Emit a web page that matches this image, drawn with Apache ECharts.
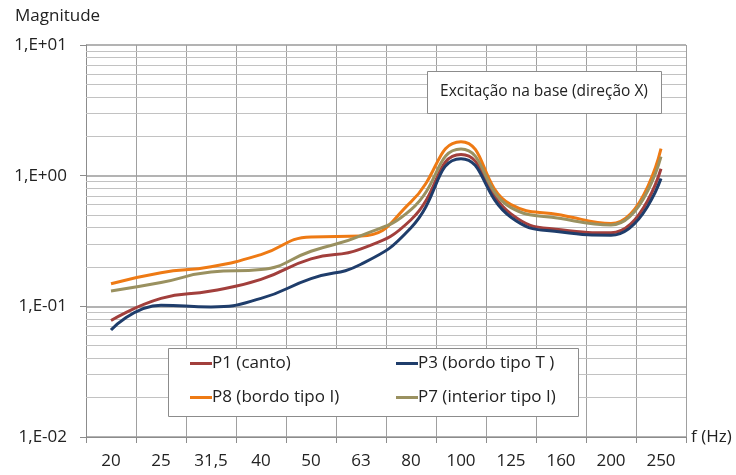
<!DOCTYPE html>
<html>
<head>
<meta charset="utf-8">
<script src="https://cdn.jsdelivr.net/npm/echarts@6/dist/echarts.min.js"></script>
<style>html,body{margin:0;padding:0;background:#fff}#c{width:736px;height:475px}</style>
</head>
<body>
<div id="c"></div>
<script>
var categories = ['20','25','31,5','40','50','63','80','100','125','160','200','250'];
var p1 = [0.078, 0.115, 0.131, 0.161, 0.231, 0.275, 0.46, 1.45, 0.51, 0.385, 0.365, 1.13];
var p3 = [0.066, 0.102, 0.099, 0.115, 0.163, 0.21, 0.40, 1.35, 0.48, 0.37, 0.35, 0.95];
var p8 = [0.149, 0.181, 0.201, 0.249, 0.34, 0.345, 0.63, 1.82, 0.60, 0.50, 0.43, 1.61];
var p7 = [0.131, 0.152, 0.183, 0.191, 0.264, 0.348, 0.55, 1.60, 0.57, 0.47, 0.42, 1.40];
var seriesNames = ['P1 (canto)', 'P3 (bordo tipo T )', 'P8 (bordo tipo I)', 'P7 (interior tipo I)'];
var minorGrid = [];
[0.01, 0.1, 1].forEach(function(d){ for (var k = 2; k <= 9; k++) minorGrid.push(+(d*k).toPrecision(3)); });

var FONT = "'Open Sans', 'Noto Sans', sans-serif";
var colors = ['#A23F3C', '#1F3D6B', '#EE7A14', '#9A9160'];
var chart = echarts.init(document.getElementById('c'), null, {renderer: 'canvas'});

function fmt(v) {
  var e = Math.round(Math.log10(v));
  var a = Math.abs(e);
  return '1,E' + (e >= 0 ? '+' : '-') + (a < 10 ? '0' + a : a);
}

var dataSets = [p1, p3, p8, p7];
var series = dataSets.map(function(d, i) {
  return {
    name: seriesNames[i], type: 'line', data: d, smooth: 0.5, showSymbol: false,
    lineStyle: {color: colors[i], width: 3}, itemStyle: {color: colors[i]}, z: 5
  };
});
series.push({
  name: 'minor', type: 'line', data: categories.map(function(){ return null; }), z: 1,
  silent: true, showSymbol: false,
  markLine: {
    silent: true, symbol: 'none', label: {show: false},
    lineStyle: {color: '#c2c2c2', type: 'solid', width: 1},
    data: minorGrid.map(function(v){ return {yAxis: v}; })
  }
});

function legendAt(name, left, top) {
  return {
    data: [name], left: left, top: top, padding: 0, icon: 'rect',
    itemWidth: 22, itemHeight: 3, itemGap: 0, z: 10,
    textStyle: {fontFamily: FONT, fontSize: 17, color: '#222', padding: [0,0,0,-5]}
  };
}

chart.setOption({
  animation: false,
  backgroundColor: '#fff',
  grid: {left: 86, right: 50, top: 45, bottom: 38},
  xAxis: {
    type: 'category', data: categories, boundaryGap: true,
    name: 'f (Hz)', nameLocation: 'end', nameGap: 5,
    nameTextStyle: {fontFamily: FONT, fontSize: 17, color: '#222', verticalAlign: 'middle'},
    axisLine: {show: true, lineStyle: {color: '#8c8c8c', width: 1}},
    axisTick: {show: true, length: 6, interval: 0, lineStyle: {color: '#8c8c8c'}},
    axisLabel: {interval: 0, margin: 16, fontFamily: FONT, fontSize: 17, color: '#222'},
    splitLine: {show: true, interval: 0, lineStyle: {color: '#a0a0a0', width: 1}}
  },
  yAxis: {
    type: 'log', logBase: 10, min: 0.01, max: 10,
    axisLine: {show: true, lineStyle: {color: '#8c8c8c'}},
    axisTick: {show: true, length: 6, lineStyle: {color: '#8c8c8c'}},
    axisLabel: {margin: 19, fontFamily: FONT, fontSize: 17, color: '#222', formatter: fmt},
    splitLine: {show: true, lineStyle: {color: '#9a9a9a', width: 1.5}}
  },
  legend: [
    legendAt(seriesNames[0], 190, 355),
    legendAt(seriesNames[2], 190, 389),
    legendAt(seriesNames[1], 396, 355),
    legendAt(seriesNames[3], 396, 389)
  ],
  graphic: [
    {type: 'text', left: 15, top: 8, style: {text: 'Magnitude', font: '17px ' + FONT, fill: '#222'}},
    {type: 'rect', shape: {x: 427.5, y: 71.5, width: 234, height: 42}, z: 8,
     style: {fill: '#fff', stroke: '#8c8c8c', lineWidth: 1}},
    {type: 'text', x: 544, y: 92, z: 9,
     style: {text: 'Excitação na base (direção X)', font: '15.5px ' + FONT, fill: '#222', textAlign: 'center', textVerticalAlign: 'middle'}},
    {type: 'rect', shape: {x: 168.5, y: 348.5, width: 410, height: 68}, z: 8,
     style: {fill: '#fff', stroke: '#8c8c8c', lineWidth: 1}}
  ],
  series: series
});
</script>
</body>
</html>
